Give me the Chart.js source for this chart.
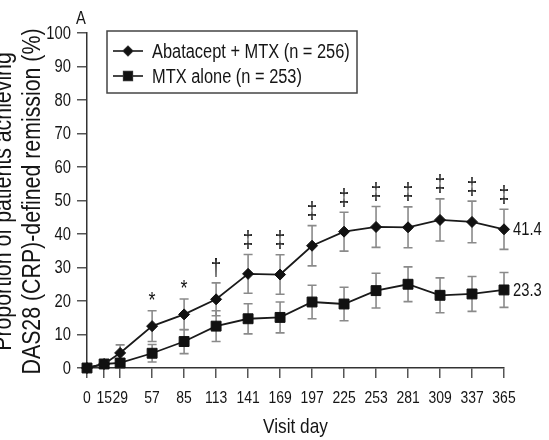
<!DOCTYPE html>
<html>
<head>
<meta charset="utf-8">
<script src="https://cdn.jsdelivr.net/npm/chart.js@4.4.1/dist/chart.umd.min.js"></script>
<style>
  html, body { margin: 0; padding: 0; background: #fff; overflow: hidden; }
  canvas { display: block; }
</style>
</head>
<body>
<canvas id="chart" width="549" height="440"></canvas>
<script>
// Visit days (x axis) and remission rates (%) with error-bar half-widths
const visitDays = [0, 15, 29, 57, 85, 113, 141, 169, 197, 225, 253, 281, 309, 337, 365];
const abataceptMtx = [0, 1.2, 4.5, 12.5, 16.0, 20.5, 28.1, 27.9, 36.5, 40.7, 42.1, 42.0, 44.2, 43.6, 41.4];
const abataceptMtxErr = [0, 0.8, 2.4, 4.6, 4.6, 4.9, 5.8, 5.9, 6.0, 5.8, 6.1, 6.1, 6.3, 6.2, 6.0];
const mtxAlone = [0, 1.2, 1.5, 4.4, 7.9, 12.5, 14.7, 15.1, 19.7, 19.1, 23.1, 25.0, 21.7, 22.1, 23.3];
const mtxAloneErr = [0, 0.8, 1.2, 2.6, 3.6, 4.6, 4.5, 4.6, 5.0, 5.0, 5.2, 5.2, 5.2, 5.2, 5.2];
// Significance of the between-group difference at each visit
const significance = ['', '', '', '*', '*', '\u2020', '\u2021', '\u2021', '\u2021', '\u2021', '\u2021', '\u2021', '\u2021', '\u2021', '\u2021'];
const yTicks = [0, 10, 20, 30, 40, 50, 60, 70, 80, 90, 100];
const seriesLabels = ['Abatacept + MTX (n = 256)', 'MTX alone (n = 253)'];
const yTitleLines = ['Proportion of patients achieving', 'DAS28 (CRP)-defined remission (%)'];
const xTitle = 'Visit day';
const panelLetter = 'A';

const FONT = "'Liberation Sans', Arial, sans-serif";
const NARROW = 0.82; // horizontal squeeze for a condensed look
const INK = '#151515';
Chart.defaults.font.family = FONT;
Chart.defaults.color = INK;

const seriesErr = [abataceptMtxErr, mtxAloneErr];

// Draw condensed text, optionally rotated to read bottom-to-top
function narrowText(ctx, text, x, y, size, align, baseline, rotated) {
  ctx.save();
  ctx.translate(x, y);
  if (rotated) ctx.rotate(-Math.PI / 2);
  ctx.scale(NARROW, 1);
  ctx.font = `${size}px ${FONT}`;
  ctx.textAlign = align;
  ctx.textBaseline = baseline;
  ctx.fillText(text, 0, 0);
  ctx.restore();
}

// Vertical error bars with caps, drawn under the lines and markers
const errorBars = {
  id: 'errorBars',
  beforeDatasetsDraw(chart) {
    const { ctx, scales: { x, y } } = chart;
    ctx.save();
    ctx.strokeStyle = '#8a8a8a';
    ctx.lineWidth = 1.6;
    chart.data.datasets.forEach((ds, i) => {
      const errs = seriesErr[i];
      ds.data.forEach((pt, j) => {
        const e = errs[j];
        if (!e) return;
        const px = x.getPixelForValue(pt.x);
        const top = y.getPixelForValue(pt.y + e);
        const bot = y.getPixelForValue(Math.max(0, pt.y - e));
        ctx.beginPath();
        ctx.moveTo(px, top); ctx.lineTo(px, bot);
        ctx.moveTo(px - 4.5, top); ctx.lineTo(px + 4.5, top);
        ctx.moveTo(px - 4.5, bot); ctx.lineTo(px + 4.5, bot);
        ctx.stroke();
      });
    });
    ctx.restore();
  }
};

// Tick labels, significance marks, end values, legend and titles
const annotations = {
  id: 'annotations',
  afterDraw(chart) {
    const { ctx, chartArea: area, scales: { x, y } } = chart;
    ctx.save();
    ctx.fillStyle = INK;

    // axis tick labels
    x.ticks.forEach(t => {
      narrowText(ctx, String(t.value), x.getPixelForValue(t.value), 398, 17, 'center', 'middle');
    });
    y.ticks.forEach(t => {
      narrowText(ctx, String(t.value), area.left - 16, y.getPixelForValue(t.value) + 1, 18, 'right', 'middle');
    });

    // significance marks above the upper error bar
    significance.forEach((s, j) => {
      if (!s) return;
      const px = x.getPixelForValue(visitDays[j]);
      const py = y.getPixelForValue(abataceptMtx[j] + abataceptMtxErr[j]) - 13;
      narrowText(ctx, s, px, py + (s === '*' ? 3 : 0), s === '*' ? 22 : 23, 'center', 'middle');
    });

    // final values at the right end of each line
    const last = visitDays.length - 1;
    [abataceptMtx, mtxAlone].forEach(series => {
      narrowText(ctx, String(series[last]), x.getPixelForValue(visitDays[last]) + 9,
        y.getPixelForValue(series[last]) + 1, 18, 'left', 'middle');
    });

    // legend box
    const lx = area.left + 20, ly = area.top - 2, lw = 250, lh = 62;
    ctx.strokeStyle = '#444';
    ctx.lineWidth = 1.5;
    ctx.strokeRect(lx, ly, lw, lh);
    const styles = ['rectRot', 'rect'];
    const radii = [4.5, 6];
    seriesLabels.forEach((label, i) => {
      const cy = ly + 20 + i * 25;
      ctx.strokeStyle = '#333';
      ctx.lineWidth = 1.8;
      ctx.beginPath();
      ctx.moveTo(lx + 6, cy); ctx.lineTo(lx + 36, cy);
      ctx.stroke();
      Chart.helpers.drawPoint(ctx, { pointStyle: styles[i], radius: radii[i], borderWidth: 1 }, lx + 21, cy);
      ctx.fillStyle = '#111';
      ctx.fill();
      ctx.fillStyle = INK;
      narrowText(ctx, label, lx + 45, cy + 1, 20, 'left', 'middle');
    });

    // panel letter
    narrowText(ctx, panelLetter, area.left - 6, area.top - 14, 18, 'center', 'middle');

    // x axis title
    narrowText(ctx, xTitle, (area.left + area.right) / 2, 427, 21, 'center', 'middle');

    // y axis title, two rotated lines
    const cy = (area.top + area.bottom) / 2 + 1;
    [11, 40].forEach((bx, i) => {
      narrowText(ctx, yTitleLines[i], bx, cy, 26, 'center', 'alphabetic', true);
    });
    ctx.restore();
  }
};

new Chart(document.getElementById('chart'), {
  type: 'line',
  data: {
    datasets: [
      {
        label: seriesLabels[0],
        data: visitDays.map((d, i) => ({ x: d, y: abataceptMtx[i] })),
        borderColor: '#1a1a1a',
        borderWidth: 1.8,
        pointStyle: 'rectRot',
        pointRadius: 5.5,
        pointBackgroundColor: '#111',
        pointBorderColor: '#111',
        pointBorderWidth: 1,
        clip: false
      },
      {
        label: seriesLabels[1],
        data: visitDays.map((d, i) => ({ x: d, y: mtxAlone[i] })),
        borderColor: '#1a1a1a',
        borderWidth: 1.8,
        pointStyle: 'rect',
        pointRadius: 7,
        pointBackgroundColor: '#111',
        pointBorderColor: '#111',
        pointBorderWidth: 1,
        clip: false
      }
    ]
  },
  options: {
    responsive: false,
    animation: false,
    layout: { padding: { left: 0, right: 45, top: 33, bottom: 0 } },
    plugins: { legend: { display: false }, tooltip: { enabled: false } },
    scales: {
      x: {
        type: 'linear',
        min: 0,
        max: 365,
        afterBuildTicks: s => { s.ticks = visitDays.map(v => ({ value: v })); },
        afterFit: s => { s.height = 72; },
        grid: { drawOnChartArea: false, drawTicks: true, tickLength: 10, color: '#555', lineWidth: 1.5 },
        border: { color: '#333', width: 1.5 },
        ticks: { display: false, autoSkip: false, maxRotation: 0 }
      },
      y: {
        min: 0,
        max: 100,
        afterBuildTicks: s => { s.ticks = yTicks.map(v => ({ value: v })); },
        afterFit: s => { s.width = 87; },
        grid: { drawOnChartArea: false, drawTicks: true, tickLength: 10, color: '#555', lineWidth: 1.5 },
        border: { color: '#333', width: 1.5 },
        ticks: { display: false }
      }
    }
  },
  plugins: [errorBars, annotations]
});
</script>
</body>
</html>
